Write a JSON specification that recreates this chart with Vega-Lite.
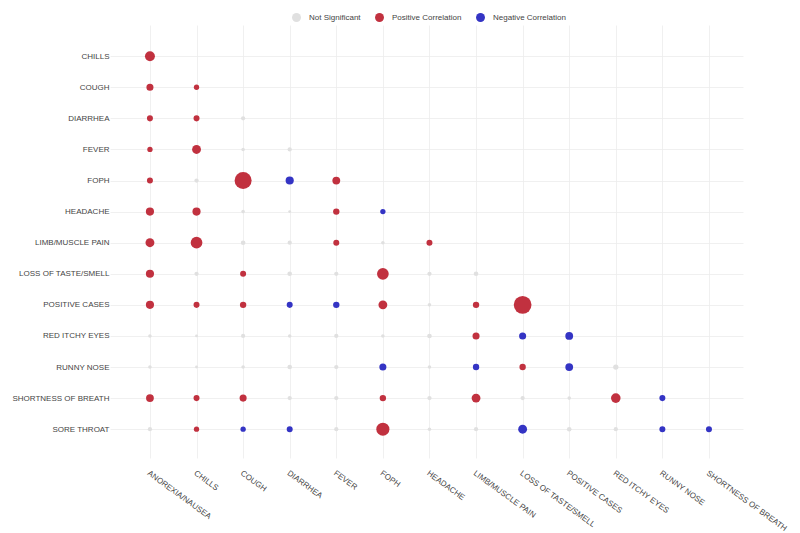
{
  "$schema": "https://vega.github.io/schema/vega-lite/v6.json",
  "width": 633,
  "height": 433,
  "autosize": {"type": "none"},
  "padding": {"left": 110, "top": 25, "right": 57, "bottom": 75},
  "background": "white",
  "config": {
    "view": {"stroke": null},
    "font": "Liberation Sans",
    "axis": {
      "labelFont": "Liberation Sans",
      "labelFontSize": 8,
      "labelColor": "#444444",
      "ticks": false,
      "domain": false,
      "grid": true,
      "gridColor": "#ececec",
      "gridWidth": 0.8,
      "title": null
    },
    "legend": {
      "labelFont": "Liberation Sans",
      "labelFontSize": 8,
      "labelColor": "#444444"
    }
  },
  "data": {
    "values": [
      {"row": "CHILLS", "col": "ANOREXIA/NAUSEA", "strength": 0.28, "result": "Positive Correlation"},
      {"row": "COUGH", "col": "ANOREXIA/NAUSEA", "strength": 0.20, "result": "Positive Correlation"},
      {"row": "COUGH", "col": "CHILLS", "strength": 0.15, "result": "Positive Correlation"},
      {"row": "DIARRHEA", "col": "ANOREXIA/NAUSEA", "strength": 0.17, "result": "Positive Correlation"},
      {"row": "DIARRHEA", "col": "CHILLS", "strength": 0.17, "result": "Positive Correlation"},
      {"row": "DIARRHEA", "col": "COUGH", "strength": 0.12, "result": "Not Significant"},
      {"row": "FEVER", "col": "ANOREXIA/NAUSEA", "strength": 0.15, "result": "Positive Correlation"},
      {"row": "FEVER", "col": "CHILLS", "strength": 0.25, "result": "Positive Correlation"},
      {"row": "FEVER", "col": "COUGH", "strength": 0.10, "result": "Not Significant"},
      {"row": "FEVER", "col": "DIARRHEA", "strength": 0.12, "result": "Not Significant"},
      {"row": "FOPH", "col": "ANOREXIA/NAUSEA", "strength": 0.17, "result": "Positive Correlation"},
      {"row": "FOPH", "col": "CHILLS", "strength": 0.12, "result": "Not Significant"},
      {"row": "FOPH", "col": "COUGH", "strength": 0.48, "result": "Positive Correlation"},
      {"row": "FOPH", "col": "DIARRHEA", "strength": 0.23, "result": "Negative Correlation"},
      {"row": "FOPH", "col": "FEVER", "strength": 0.22, "result": "Positive Correlation"},
      {"row": "HEADACHE", "col": "ANOREXIA/NAUSEA", "strength": 0.23, "result": "Positive Correlation"},
      {"row": "HEADACHE", "col": "CHILLS", "strength": 0.23, "result": "Positive Correlation"},
      {"row": "HEADACHE", "col": "COUGH", "strength": 0.10, "result": "Not Significant"},
      {"row": "HEADACHE", "col": "DIARRHEA", "strength": 0.08, "result": "Not Significant"},
      {"row": "HEADACHE", "col": "FEVER", "strength": 0.18, "result": "Positive Correlation"},
      {"row": "HEADACHE", "col": "FOPH", "strength": 0.15, "result": "Negative Correlation"},
      {"row": "LIMB/MUSCLE PAIN", "col": "ANOREXIA/NAUSEA", "strength": 0.25, "result": "Positive Correlation"},
      {"row": "LIMB/MUSCLE PAIN", "col": "CHILLS", "strength": 0.33, "result": "Positive Correlation"},
      {"row": "LIMB/MUSCLE PAIN", "col": "COUGH", "strength": 0.13, "result": "Not Significant"},
      {"row": "LIMB/MUSCLE PAIN", "col": "DIARRHEA", "strength": 0.12, "result": "Not Significant"},
      {"row": "LIMB/MUSCLE PAIN", "col": "FEVER", "strength": 0.17, "result": "Positive Correlation"},
      {"row": "LIMB/MUSCLE PAIN", "col": "FOPH", "strength": 0.10, "result": "Not Significant"},
      {"row": "LIMB/MUSCLE PAIN", "col": "HEADACHE", "strength": 0.17, "result": "Positive Correlation"},
      {"row": "LOSS OF TASTE/SMELL", "col": "ANOREXIA/NAUSEA", "strength": 0.23, "result": "Positive Correlation"},
      {"row": "LOSS OF TASTE/SMELL", "col": "CHILLS", "strength": 0.12, "result": "Not Significant"},
      {"row": "LOSS OF TASTE/SMELL", "col": "COUGH", "strength": 0.17, "result": "Positive Correlation"},
      {"row": "LOSS OF TASTE/SMELL", "col": "DIARRHEA", "strength": 0.13, "result": "Not Significant"},
      {"row": "LOSS OF TASTE/SMELL", "col": "FEVER", "strength": 0.12, "result": "Not Significant"},
      {"row": "LOSS OF TASTE/SMELL", "col": "FOPH", "strength": 0.33, "result": "Positive Correlation"},
      {"row": "LOSS OF TASTE/SMELL", "col": "HEADACHE", "strength": 0.12, "result": "Not Significant"},
      {"row": "LOSS OF TASTE/SMELL", "col": "LIMB/MUSCLE PAIN", "strength": 0.13, "result": "Not Significant"},
      {"row": "POSITIVE CASES", "col": "ANOREXIA/NAUSEA", "strength": 0.23, "result": "Positive Correlation"},
      {"row": "POSITIVE CASES", "col": "CHILLS", "strength": 0.17, "result": "Positive Correlation"},
      {"row": "POSITIVE CASES", "col": "COUGH", "strength": 0.18, "result": "Positive Correlation"},
      {"row": "POSITIVE CASES", "col": "DIARRHEA", "strength": 0.17, "result": "Negative Correlation"},
      {"row": "POSITIVE CASES", "col": "FEVER", "strength": 0.18, "result": "Negative Correlation"},
      {"row": "POSITIVE CASES", "col": "FOPH", "strength": 0.25, "result": "Positive Correlation"},
      {"row": "POSITIVE CASES", "col": "HEADACHE", "strength": 0.10, "result": "Not Significant"},
      {"row": "POSITIVE CASES", "col": "LIMB/MUSCLE PAIN", "strength": 0.18, "result": "Positive Correlation"},
      {"row": "POSITIVE CASES", "col": "LOSS OF TASTE/SMELL", "strength": 0.50, "result": "Positive Correlation"},
      {"row": "RED ITCHY EYES", "col": "ANOREXIA/NAUSEA", "strength": 0.10, "result": "Not Significant"},
      {"row": "RED ITCHY EYES", "col": "CHILLS", "strength": 0.08, "result": "Not Significant"},
      {"row": "RED ITCHY EYES", "col": "COUGH", "strength": 0.12, "result": "Not Significant"},
      {"row": "RED ITCHY EYES", "col": "DIARRHEA", "strength": 0.10, "result": "Not Significant"},
      {"row": "RED ITCHY EYES", "col": "FEVER", "strength": 0.12, "result": "Not Significant"},
      {"row": "RED ITCHY EYES", "col": "FOPH", "strength": 0.10, "result": "Not Significant"},
      {"row": "RED ITCHY EYES", "col": "HEADACHE", "strength": 0.13, "result": "Not Significant"},
      {"row": "RED ITCHY EYES", "col": "LIMB/MUSCLE PAIN", "strength": 0.20, "result": "Positive Correlation"},
      {"row": "RED ITCHY EYES", "col": "LOSS OF TASTE/SMELL", "strength": 0.20, "result": "Negative Correlation"},
      {"row": "RED ITCHY EYES", "col": "POSITIVE CASES", "strength": 0.22, "result": "Negative Correlation"},
      {"row": "RUNNY NOSE", "col": "ANOREXIA/NAUSEA", "strength": 0.10, "result": "Not Significant"},
      {"row": "RUNNY NOSE", "col": "CHILLS", "strength": 0.08, "result": "Not Significant"},
      {"row": "RUNNY NOSE", "col": "COUGH", "strength": 0.10, "result": "Not Significant"},
      {"row": "RUNNY NOSE", "col": "DIARRHEA", "strength": 0.13, "result": "Not Significant"},
      {"row": "RUNNY NOSE", "col": "FEVER", "strength": 0.12, "result": "Not Significant"},
      {"row": "RUNNY NOSE", "col": "FOPH", "strength": 0.20, "result": "Negative Correlation"},
      {"row": "RUNNY NOSE", "col": "HEADACHE", "strength": 0.10, "result": "Not Significant"},
      {"row": "RUNNY NOSE", "col": "LIMB/MUSCLE PAIN", "strength": 0.18, "result": "Negative Correlation"},
      {"row": "RUNNY NOSE", "col": "LOSS OF TASTE/SMELL", "strength": 0.18, "result": "Positive Correlation"},
      {"row": "RUNNY NOSE", "col": "POSITIVE CASES", "strength": 0.22, "result": "Negative Correlation"},
      {"row": "RUNNY NOSE", "col": "RED ITCHY EYES", "strength": 0.15, "result": "Not Significant"},
      {"row": "SHORTNESS OF BREATH", "col": "ANOREXIA/NAUSEA", "strength": 0.22, "result": "Positive Correlation"},
      {"row": "SHORTNESS OF BREATH", "col": "CHILLS", "strength": 0.17, "result": "Positive Correlation"},
      {"row": "SHORTNESS OF BREATH", "col": "COUGH", "strength": 0.20, "result": "Positive Correlation"},
      {"row": "SHORTNESS OF BREATH", "col": "DIARRHEA", "strength": 0.12, "result": "Not Significant"},
      {"row": "SHORTNESS OF BREATH", "col": "FEVER", "strength": 0.12, "result": "Not Significant"},
      {"row": "SHORTNESS OF BREATH", "col": "FOPH", "strength": 0.18, "result": "Positive Correlation"},
      {"row": "SHORTNESS OF BREATH", "col": "HEADACHE", "strength": 0.12, "result": "Not Significant"},
      {"row": "SHORTNESS OF BREATH", "col": "LIMB/MUSCLE PAIN", "strength": 0.25, "result": "Positive Correlation"},
      {"row": "SHORTNESS OF BREATH", "col": "LOSS OF TASTE/SMELL", "strength": 0.12, "result": "Not Significant"},
      {"row": "SHORTNESS OF BREATH", "col": "POSITIVE CASES", "strength": 0.10, "result": "Not Significant"},
      {"row": "SHORTNESS OF BREATH", "col": "RED ITCHY EYES", "strength": 0.27, "result": "Positive Correlation"},
      {"row": "SHORTNESS OF BREATH", "col": "RUNNY NOSE", "strength": 0.17, "result": "Negative Correlation"},
      {"row": "SORE THROAT", "col": "ANOREXIA/NAUSEA", "strength": 0.12, "result": "Not Significant"},
      {"row": "SORE THROAT", "col": "CHILLS", "strength": 0.15, "result": "Positive Correlation"},
      {"row": "SORE THROAT", "col": "COUGH", "strength": 0.15, "result": "Negative Correlation"},
      {"row": "SORE THROAT", "col": "DIARRHEA", "strength": 0.17, "result": "Negative Correlation"},
      {"row": "SORE THROAT", "col": "FEVER", "strength": 0.12, "result": "Not Significant"},
      {"row": "SORE THROAT", "col": "FOPH", "strength": 0.37, "result": "Positive Correlation"},
      {"row": "SORE THROAT", "col": "HEADACHE", "strength": 0.10, "result": "Not Significant"},
      {"row": "SORE THROAT", "col": "LIMB/MUSCLE PAIN", "strength": 0.12, "result": "Not Significant"},
      {"row": "SORE THROAT", "col": "LOSS OF TASTE/SMELL", "strength": 0.25, "result": "Negative Correlation"},
      {"row": "SORE THROAT", "col": "POSITIVE CASES", "strength": 0.13, "result": "Not Significant"},
      {"row": "SORE THROAT", "col": "RED ITCHY EYES", "strength": 0.12, "result": "Not Significant"},
      {"row": "SORE THROAT", "col": "RUNNY NOSE", "strength": 0.17, "result": "Negative Correlation"},
      {"row": "SORE THROAT", "col": "SHORTNESS OF BREATH", "strength": 0.17, "result": "Negative Correlation"}
    ]
  },
  "mark": {"type": "circle", "opacity": 1, "stroke": null},
  "encoding": {
    "x": {
      "field": "col",
      "type": "nominal",
      "scale": {
        "type": "point",
        "padding": 0.794,
        "align": 0.54,
        "domain": ["ANOREXIA/NAUSEA", "CHILLS", "COUGH", "DIARRHEA", "FEVER", "FOPH", "HEADACHE", "LIMB/MUSCLE PAIN", "LOSS OF TASTE/SMELL", "POSITIVE CASES", "RED ITCHY EYES", "RUNNY NOSE", "SHORTNESS OF BREATH"]
      },
      "axis": {"labelAngle": 36, "labelAlign": "left", "labelBaseline": "top", "labelPadding": 11}
    },
    "y": {
      "field": "row",
      "type": "nominal",
      "scale": {
        "type": "point",
        "padding": 0.965,
        "align": 0.52,
        "domain": ["CHILLS", "COUGH", "DIARRHEA", "FEVER", "FOPH", "HEADACHE", "LIMB/MUSCLE PAIN", "LOSS OF TASTE/SMELL", "POSITIVE CASES", "RED ITCHY EYES", "RUNNY NOSE", "SHORTNESS OF BREATH", "SORE THROAT"]
      },
      "axis": {"labelPadding": 1}
    },
    "color": {
      "field": "result",
      "type": "nominal",
      "scale": {
        "domain": ["Not Significant", "Positive Correlation", "Negative Correlation"],
        "range": ["#e0e0e0", "#c1313f", "#3434c4"]
      },
      "legend": {
        "title": null,
        "orient": "none",
        "direction": "horizontal",
        "legendX": 182,
        "legendY": -12,
        "symbolType": "circle",
        "symbolSize": 80,
        "symbolStrokeWidth": 0,
        "labelOffset": 8,
        "columnPadding": 14
      }
    },
    "size": {
      "field": "strength",
      "type": "quantitative",
      "scale": {"type": "pow", "exponent": 2, "domain": [0, 0.5], "range": [0, 314], "zero": true},
      "legend": null
    }
  }
}
